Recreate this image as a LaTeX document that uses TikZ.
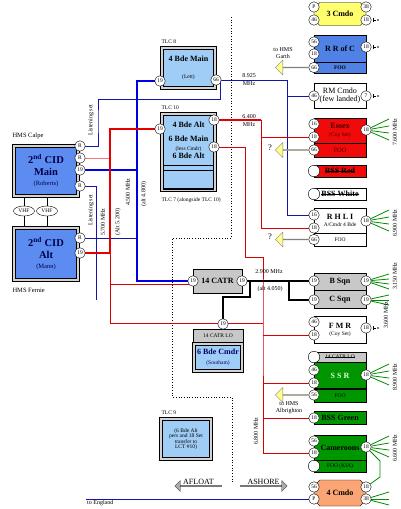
\documentclass[tikz,border=0pt]{standalone}
\usepackage{fontspec}
\setmainfont{Liberation Serif}
\definecolor{cidBlue}{RGB}{92,140,240}
\definecolor{tlcBlue}{RGB}{160,205,245}
\definecolor{rrcBlue}{RGB}{80,130,230}
\definecolor{unitRed}{RGB}{240,10,10}
\definecolor{unitGreen}{RGB}{0,150,0}
\definecolor{unitYellow}{RGB}{255,255,110}
\definecolor{unitOrange}{RGB}{250,165,115}
\definecolor{unitGray}{RGB}{200,200,200}
\definecolor{navyLine}{RGB}{20,20,170}
\definecolor{fooYellow}{RGB}{255,255,140}
\definecolor{fanGreen}{RGB}{0,140,0}
\usepackage{tikz}
\usetikzlibrary{positioning,shapes.geometric,shapes.misc,shapes.arrows,arrows.meta,backgrounds}
\newcommand{\pinfont}{\fontsize{5.5}{5.5}\selectfont}
\newcommand{\lblfont}{\fontsize{6}{7}\selectfont}
\newcommand{\unitfont}{\fontsize{8}{8.5}\selectfont\bfseries}
\newcommand{\cidfont}{\fontsize{10.5}{11.5}\selectfont\bfseries}
\newsavebox{\strikebox}
\newcommand{\strike}[1]{\sbox{\strikebox}{#1}\rlap{\usebox{\strikebox}}\rule[0.55ex]{\wd\strikebox}{0.4pt}}
\tikzset{
  pin/.style={circle,draw,fill=white,inner sep=0pt,minimum size=10.5pt,font=\pinfont},
  epin/.style={circle,draw,fill=white,inner sep=0pt,minimum size=11.5pt},
  unit/.style={rectangle,draw,minimum width=52pt,minimum height=#1,inner sep=0pt,
    align=center,font=\unitfont},
  unit/.default=25pt,
  cmdo/.style={chamfered rectangle,chamfered rectangle xsep=3pt,chamfered rectangle ysep=3pt,
    draw,minimum width=52pt,minimum height=#1,inner sep=0pt,font=\unitfont},
  cmdo/.default=24pt,
  hq/.style={rectangle,draw=black,line width=1.1pt,double=gray!35,double distance=1.1pt,
    inner sep=1pt,align=center},
  vhf/.style={ellipse,draw,fill=white,inner sep=0.5pt,minimum width=21pt,minimum height=10pt,font=\pinfont},
  fooarrow/.style={single arrow,draw=gray,fill=fooYellow,minimum height=33pt,minimum width=15pt,
    single arrow head extend=3.5pt,shape border rotate=180,inner sep=0pt,anchor=tail},
  bigarrow/.style={single arrow,draw=black!75,fill=gray!65,minimum height=47pt,minimum width=11pt,
    single arrow head extend=2.5pt,inner sep=0pt},
  bluethick/.style={draw=blue!90!black,line width=2.4pt},
  redthick/.style={draw=red!90!black,line width=2.4pt},
  redmid/.style={draw=red!90!black,line width=1.6pt},
  redthin/.style={draw=red!85!black,line width=0.9pt},
  navyline/.style={draw=navyLine,line width=0.9pt},
  blackline/.style={draw=black,line width=1.2pt},
  fan/.style={draw=fanGreen,line width=0.8pt},
  divider/.style={draw=black,dotted,line width=0.7pt},
  antenna/.style={circle,fill=black,inner sep=0pt,minimum size=1.6pt}
}

\begin{document}
\begin{tikzpicture}[x=1pt,y=-1pt,every node/.style={font=\lblfont}]
  \useasboundingbox (0,0) rectangle (400,509);

  % ships
  \node[anchor=west,font=\fontsize{6.5}{7}\selectfont] (calpe) at (9,136) {HMS Calpe};
  \node[hq,fill=cidBlue,minimum width=64pt,minimum height=50pt,font=\cidfont,text=blue!30!black] (cidm) at (46,171)
    {2\textsuperscript{nd} CID\\Main\\[-1pt]{\fontsize{6.5}{7}\selectfont\mdseries(Roberts)}};
  \node[hq,fill=cidBlue,minimum width=64pt,minimum height=52pt,font=\cidfont,text=blue!30!black] (cida) at (46,254)
    {2\textsuperscript{nd} CID\\Alt\\[-1pt]{\fontsize{6.5}{7}\selectfont\mdseries(Mann)}};
  \node[anchor=west,font=\fontsize{6.5}{7}\selectfont] (fernie) at (9,290) {HMS Fernie};
  \node[vhf] (vhfa) at (24,211) {VHF};
  \node[vhf] (vhfb) at (47,211) {VHF};
  \node[pin] (cidm-r1) at (80,146) {R};
  \node[pin] (cidm-r2) at (80,158) {R};
  \node[pin] (cidm-19) at (80,170) {19};
  \node[pin] (cidm-r3) at (80,186) {R};
  \node[pin] (cida-r) at (80,238) {R};
  \node[pin] (cida-19) at (80,253) {19};

  % landing craft
  \node[anchor=west,font=\pinfont] (tlc8) at (158,42) {TLC 8};
  \node[hq,fill=tlcBlue,minimum width=53pt,minimum height=40pt,font=\unitfont] (bdem) at (188.5,68)
    {4 Bde Main\\[8pt]{\pinfont\mdseries(Lett)}};
  \node[pin] (bdem-l19) at (160,81) {19};
  \node[pin] (bdem-r66) at (216,80) {66};

  \node[anchor=west,font=\pinfont] (tlc10) at (158,108) {TLC 10};
  \node[hq,fill=tlcBlue,minimum width=53pt,minimum height=76pt] (tlcx) at (188.5,152) {};
  \node[rectangle,draw,minimum width=50pt,minimum height=50pt,inner sep=0pt,align=center,font=\unitfont] (tlcx-up) at (188.5,140.5)
    {4 Bde Alt\\[6pt]6 Bde Main\\{\pinfont\mdseries(less Cmdr)}\\6 Bde Alt};
  \node[rectangle,draw,minimum width=50pt,minimum height=19pt,inner sep=0pt] (tlcx-low) at (188.5,180) {};
  \node[pin] (tlcx-l19) at (160,129) {19};
  \node[pin] (tlcx-r18a) at (214,120) {18};
  \node[pin] (tlcx-r18b) at (214,147) {18};
  \node[anchor=west,font=\pinfont] (tlc7) at (158,200) {TLC 7 (alongside TLC 10)};

  \node[rectangle,draw,fill=unitGray,minimum width=49pt,minimum height=24pt,font=\unitfont] (catr) at (217.5,281) {14 CATR};
  \node[pin] (catr-l19) at (193,281) {19};
  \node[pin] (catr-r19) at (242,281) {19};
  \node[rectangle,draw,fill=unitGray,minimum width=50pt,minimum height=13pt,inner sep=0pt,font=\pinfont] (catrlo) at (218,335.5) {14 CATR LO};
  \node[hq,fill=tlcBlue,minimum width=48pt,minimum height=27pt,font=\unitfont,text=blue!40!black] (bdecmdr) at (218,357.5)
    {6 Bde Cmdr\\[2pt]{\pinfont\mdseries(Southam)}};
  \node[pin] (catrlo-19) at (223,324) {19};

  \node[anchor=west,font=\pinfont] (tlc9) at (158,413) {TLC 9};
  \node[hq,fill=tlcBlue,minimum width=50pt,minimum height=40pt,font=\pinfont] (tlcnine) at (186,439)
    {(6 Bde Alt\\pers and 18 Set\\transfer to\\LCT \#10)};

  % units ashore
  \node[cmdo=23pt,fill=unitYellow] (cmdothree) at (340,14) {3 Cmdo};
  \node[pin] (c3-lp) at (314,7) {P};
  \node[pin] (c3-l46) at (314,20) {46};
  \node[pin] (c3-r38) at (366,7) {38};
  \node[pin] (c3-r18) at (366,20) {18};

  \node[unit=27pt,fill=rrcBlue] (rrc) at (340,48.5) {R R of C};
  \node[unit=11pt,fill=rrcBlue,below=0pt of rrc,font=\pinfont\bfseries] (rrcfoo) {FOO};
  \node[pin] (rrc-l56) at (314,42) {56};
  \node[pin] (rrc-l18) at (314,54) {18};
  \node[pin] (rrc-l66) at (314,67.5) {66};
  \node[pin] (rrc-r18) at (366,47) {18};

  \node[unit=25pt,fill=white,font=\fontsize{8}{8}\selectfont] (rmc) at (340,95.5) {RM Cmdo\\(few landed)};
  \node[pin] (rmc-l46) at (314,96) {46};
  \node[pin] (rmc-r7) at (366,96) {7};

  \node[unit=25pt,fill=unitRed,text=black!75!red] (essex) at (340,130.5)
    {Essex\\[-1pt]{\pinfont\mdseries(Coy Set)}};
  \node[unit=14pt,fill=unitRed,below=0pt of essex,font=\fontsize{6.5}{7}\selectfont,text=black!75!red] (essexfoo) {FOO};
  \node[pin] (ex-l16) at (314,124) {16};
  \node[pin] (ex-l18) at (314,137) {18};
  \node[pin] (ex-l66) at (314,150) {66};
  \node[pin] (ex-r18) at (366,130) {18};

  \node[unit=12pt,fill=unitRed] (bssred) at (340,171) {\strike{BSS Red}};
  \node[epin] (bssr-c) at (314,171) {};
  \node[unit=12pt,fill=white] (bsswhite) at (340,194) {\strike{BSS White}};
  \node[epin] (bssw-c) at (314,194) {};

  \node[unit=25pt,fill=white] (rhli) at (340,220.5) {R H L I\\[-1pt]{\pinfont\mdseries A/Cmdr 4 Bde}};
  \node[unit=13pt,fill=white,below=0pt of rhli,font=\pinfont] (rhlifoo) {FOO};
  \node[pin] (rh-l16) at (314,215) {16};
  \node[pin] (rh-l18) at (314,228) {18};
  \node[pin] (rh-l66) at (314,239.5) {66};
  \node[pin] (rh-r18) at (366,221) {18};

  \node[unit=17pt,fill=unitGray] (bsqn) at (340,281.5) {B Sqn};
  \node[unit=18pt,fill=unitGray,below=0pt of bsqn] (csqn) {C Sqn};
  \node[pin] (bs-l19) at (314,281) {19};
  \node[pin] (bs-r19) at (366,281) {19};
  \node[pin] (cs-l19) at (314,300) {19};
  \node[pin] (cs-r19) at (366,300) {19};

  \node[unit=27pt,fill=white] (fmr) at (340,330) {F M R\\[-1pt]{\pinfont\mdseries(Coy Set)}};
  \node[pin] (fmr-l46) at (314,322) {46};
  \node[pin] (fmr-l18) at (314,335) {18};
  \node[pin] (fmr-r18) at (366,328) {18};

  \node[unit=10pt,fill=unitGray,font=\pinfont] (ssrlo) at (340,357) {\strike{14 CATR LO}};
  \node[unit=26pt,fill=unitGreen,below=0pt of ssrlo,text=white!85!green] (ssr) {S S R};
  \node[unit=13pt,fill=unitGreen,below=0pt of ssr,font=\pinfont] (ssrfoo) {FOO};
  \node[epin] (ssr-c) at (314,357) {};
  \node[pin] (ssr-l46) at (314,370) {46};
  \node[pin] (ssr-l18) at (314,383) {18};
  \node[pin] (ssr-l56) at (314,395) {56};
  \node[pin] (ssr-r18) at (366,375) {18};

  \node[unit=13pt,fill=unitGreen] (bssgreen) at (340,417.5) {BSS Green};
  \node[pin] (bssg-l18) at (314,418) {18};

  \node[unit=25pt,fill=unitGreen] (cam) at (340,447.5) {Cameroons};
  \node[unit=12pt,fill=unitGreen,below=0pt of cam,font=\pinfont] (camfoo) {FOO (KIA)};
  \node[pin] (cam-l56) at (314,441) {56};
  \node[pin] (cam-l18) at (314,453) {18};
  \node[epin] (cam-c) at (314,466) {};
  \node[pin] (cam-r18) at (366,447) {18};

  \node[cmdo=26pt,fill=unitOrange] (cmdofour) at (340,493) {4 Cmdo};
  \node[pin] (c4-l56) at (314,487) {56};
  \node[pin] (c4-lp) at (314,499) {P};
  \node[pin] (c4-r18) at (366,487) {18};
  \node[pin] (c4-r38) at (366,499) {38};

  % FOO arrows
  \node[fooarrow] (rrc-arrow) at (rrc-l66.west) {};
  \node[align=center] (garth) at (283,53) {to HMS\\Garth};
  \node[fooarrow] (ex-arrow) at (ex-l66.west) {};
  \node[font=\fontsize{8.5}{8.5}\selectfont] (ex-q) at (270,148) {?};
  \node[fooarrow] (rh-arrow) at (rh-l66.west) {};
  \node[font=\fontsize{8.5}{8.5}\selectfont] (rh-q) at (270,237) {?};
  \node[fooarrow] (ssr-arrow) at (ssr-l56.west) {};
  \node[align=center] (albrighton) at (289,408) {to HMS\\Albrighton};

  % afloat / ashore
  \node[bigarrow,shape border rotate=180,label={[font=\fontsize{8}{8}\selectfont,inner sep=1pt]above:AFLOAT}] (afloat) at (198.5,486) {};
  \node[bigarrow,label={[font=\fontsize{8}{8}\selectfont,inner sep=1pt]above:ASHORE}] (ashore) at (263.5,486) {};

  % frequencies
  \node[rotate=90] (lsa) at (91,120) {Listening set};
  \node[rotate=90] (lsb) at (91,210) {Listening set};
  \node[rotate=90] (f5700) at (103,222) {5.700 MHz};
  \node[rotate=90] (f5200) at (118,222) {(Alt 5.200)};
  \node[rotate=90] (f4500) at (128,192) {4.500 MHz};
  \node[rotate=90] (f4800) at (144,194) {(alt 4.800)};
  \node[align=center] (f8925) at (249,80) {8.925\\[1pt]MHz};
  \node[align=center] (f6400) at (249,121) {6.400\\[1pt]MHz};
  \node (f2900) at (269,272) {2.900 MHz};
  \node (f4050) at (270,289) {(alt 4.050)};
  \node[rotate=90] (f6800) at (256,431) {6.800 MHz};
  \node[rotate=90] (f7600) at (395,132) {7.600 MHz};
  \node[rotate=90] (f6900) at (395,223) {6.900 MHz};
  \node[rotate=90] (f3150) at (395,276) {3.150 MHz};
  \node[rotate=90] (f3600) at (386,315) {3.600 MHz};
  \node[rotate=90] (f8900) at (395,377) {8.900 MHz};
  \node[rotate=90] (f6600) at (395,448) {6.600 MHz};

  \coordinate (england) at (86,499);
  \node[anchor=north west,inner sep=1pt] (englandtxt) at (england) {to England};

  \begin{scope}[on background layer]
    \fill[white] (0,0) rectangle (400,509);
    % afloat / ashore boundary
    \draw[divider] (231,17) -- (231,238) -- (172,238) -- (172,397) -- (232,397) -- (232,483);
    % VHF link
    \draw (vhfa |- cidm.south) -- (vhfa) -- (vhfa |- cida.north);
    \draw (vhfb |- cidm.south) -- (vhfb) -- (vhfb |- cida.north);
    % listening sets
    \draw[navyline] (cidm-r1) -| (98,120) |- (220,99) -- (220,80);
    \draw[navyline] (cidm-r3) -| (96,300);
    \draw[navyline] (cida-r) -- (137,238);
    \coordinate (navybus) at (287,80);
    \draw[navyline] (bdem-r66) -- (navybus) |- (rh-l16);
    \draw[navyline] (rmc-l46) -| (navybus);
    % 4.500 MHz
    \draw[bluethick] (cidm-19) -- (137,170);
    \draw[bluethick] (catr-l19) -| (137,100) |- (bdem-l19);
    % 5.700 MHz
    \draw[redthin,red!55] (cidm-r2) -- (110,158);
    \draw[redthick] (cida-19) -| (110,140) |- (tlcx-l19);
    \draw[redthin] (110,253) |- (263,323);
    \draw[redthin] (catr-l19.south west) -- (catr-l19.south west -| 110,0);
    % 6.400 MHz
    \draw[redmid] (tlcx-r18a) -- (261,120);
    \draw[redthin] (261,120) |- (rh-l18);
    \draw[redthin] (ex-l18) -- (ex-l18 -| 261,0);
    % 6.800 MHz
    \draw[redthin] (tlcx-r18b) -| (245,257) -| (263,300) |- (cam-l18);
    \foreach \p in {fmr-l18,ssr-l18,bssg-l18}
      \draw[redthin] (\p) -- (\p -| 263,0);
    % 2.900 MHz
    \draw[blackline] (catr-r19) -- (bs-l19);
    \draw[blackline] (cs-l19) -| (289,281);
    \draw[blackline] (catrlo-19) |- (250,297) -- (250,281);
    % set fans
    \foreach \dy in {-11,-4,3,10} {
      \draw[fan] (ex-r18) -- ++(23,\dy);
      \draw[fan] (rh-r18) -- ++(23,\dy);
      \draw[fan] (ssr-r18) -- ++(23,\dy);
      \draw[fan] (cam-r18) -- ++(23,\dy);
    }
    \foreach \dy in {-7,-2,3,8} \draw[fan] (bs-r19) -- ++(23,\dy);
    \foreach \dy in {-5,0,5} \draw[fan] (cs-r19) -- ++(23,\dy);
    \foreach \dy in {-7,0,6} \draw[fan] (c4-r38) -- ++(23,\dy);
    \draw[fan] (cam-r18) -- (380,461) -- (380,477) -- (c4-r18);
    % rear link
    \draw[navyline] (england) -- (c4-lp);
  \end{scope}
  % whip aerials
  \foreach \p in {c3-r18,rrc-r18,rmc-r7,fmr-r18}
    \draw[line width=0.5pt] (\p.east) ++(1.5,-2) -- ++(0,4) (\p.east) ++(1.5,0) -- ++(3,0) node[antenna,right=1pt] {};
\end{tikzpicture}
\end{document}
